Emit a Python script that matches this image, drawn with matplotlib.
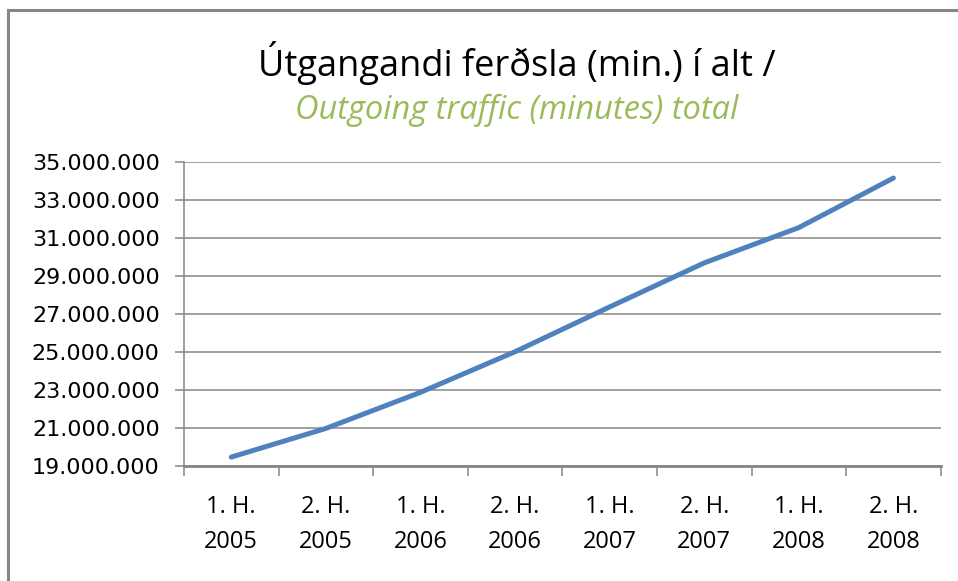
import numpy as np
import matplotlib as mpl
mpl.use('Agg')
import matplotlib.pyplot as plt
from matplotlib.ticker import FuncFormatter, FixedLocator
from matplotlib.patches import Rectangle

# data (minutes)
periods = ['1. H.\n2005', '2. H.\n2005', '1. H.\n2006', '2. H.\n2006',
           '1. H.\n2007', '2. H.\n2007', '1. H.\n2008', '2. H.\n2008']
outgoing = [19470000, 20980000, 22880000, 25020000,
            27380000, 29700000, 31560000, 34170000]
yticks = [19000000, 21000000, 23000000, 25000000, 27000000,
          29000000, 31000000, 33000000, 35000000]

title_is = 'Útgangandi ferðsla (min.) í alt /'
title_en = 'Outgoing traffic (minutes) total'

grey = '#868686'
blue = '#4F81BD'
green = '#9BBB59'

fig = plt.figure(figsize=(9.58, 5.81), dpi=100)
ax = fig.add_axes([184 / 958, 1 - 466 / 581, (940.7 - 184) / 958, (466 - 162.3) / 581])

# outer chart frame (only top and left edges visible)
fig.patches.append(Rectangle((8 / 958, -0.1), 1.2, 1.1 - 10 / 581,
                             transform=fig.transFigure, fill=False,
                             edgecolor=grey, lw=2.2))

x = np.arange(len(periods)) + 0.5
ax.plot(x, outgoing, color=blue, lw=3.6, solid_capstyle='round', zorder=3)

ax.set_xlim(0, len(periods))
ax.set_ylim(yticks[0], yticks[-1])
ax.set_yticks(yticks)
ax.yaxis.set_major_formatter(FuncFormatter(lambda v, p: f'{int(v):,}'.replace(',', '.')))
ax.grid(axis='y', color=grey, lw=1.1)
ax.set_axisbelow(True)

ax.xaxis.set_major_locator(FixedLocator(np.arange(len(periods) + 1)))
ax.xaxis.set_minor_locator(FixedLocator(x))
ax.set_xticklabels([], minor=False)
ax.set_xticklabels(periods, minor=True, fontfamily='Open Sans', fontsize=17,
                   linespacing=1.6)
ax.tick_params(axis='x', which='major', length=7, width=1.1, color=grey)
ax.tick_params(axis='x', which='minor', length=0, pad=21)
ax.tick_params(axis='y', length=6.5, width=1.1, color=grey, pad=11,
               labelsize=16)
for lab in ax.get_yticklabels():
    lab.set_fontfamily('DejaVu Sans')

for s in ['top', 'right']:
    ax.spines[s].set_visible(False)
ax.spines['left'].set_color(grey)
ax.spines['left'].set_linewidth(1.1)
ax.spines['bottom'].set_color(grey)
ax.spines['bottom'].set_linewidth(2)

fig.text(517 / 958, 1 - 76 / 581, title_is, ha='center', va='baseline',
         fontfamily='Open Sans', fontsize=26, color='black')
fig.text(517 / 958, 1 - 119 / 581, title_en, ha='center', va='baseline',
         fontfamily='Open Sans', fontsize=23.5, style='italic', color=green)

fig.savefig('out.png', dpi=100)
